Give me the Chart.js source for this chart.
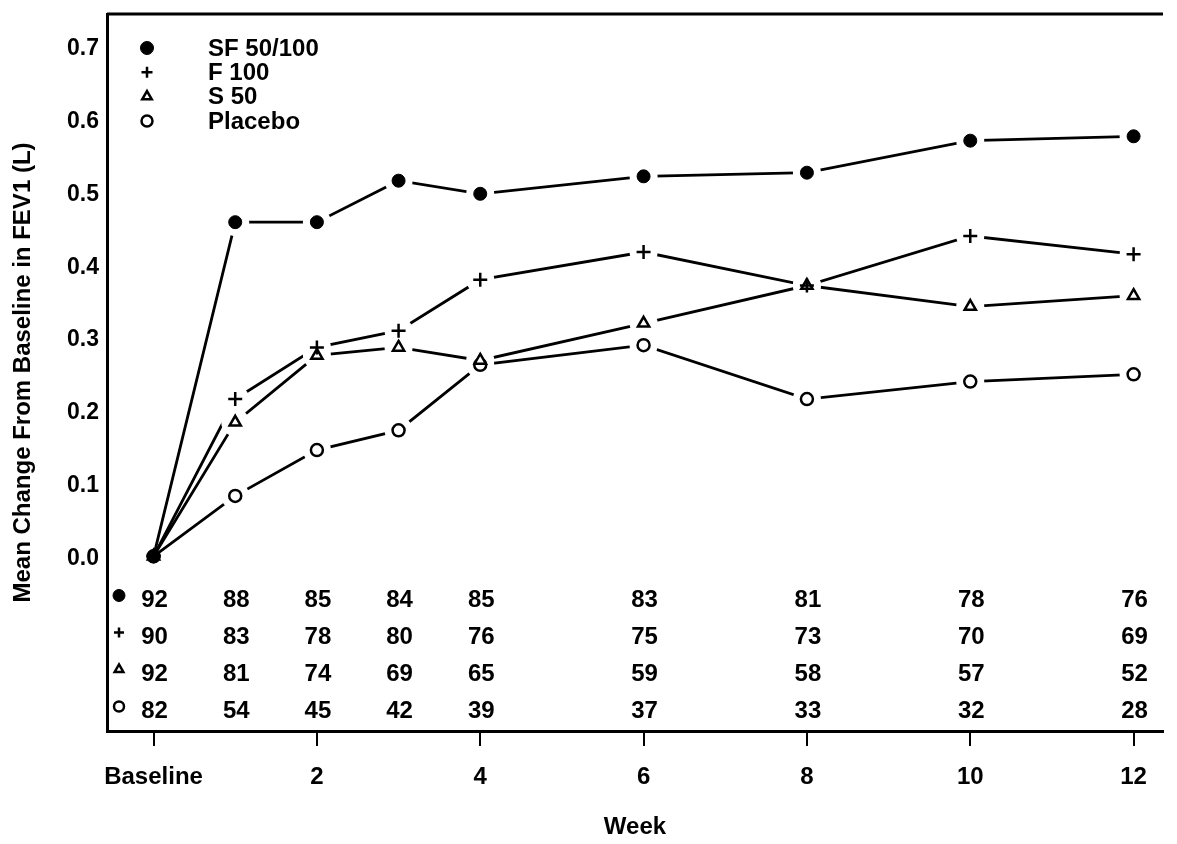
<!DOCTYPE html>
<html lang="en">
<head>
<meta charset="UTF-8">
<script src="https://cdn.jsdelivr.net/npm/chart.js@4.4.0/dist/chart.umd.min.js"></script>
<title>FEV1 change from baseline</title>
<style>
    html, body { margin: 0; padding: 0; background: #fff; overflow: hidden; }
    canvas#myChart { display: block; }
</style>
</head>
<body>
<canvas id="myChart" width="1177" height="844"></canvas>
<script>
// weeks of the visits (0 = baseline)
const weeks = [0, 1, 2, 3, 4, 6, 8, 10, 12];
const seriesNames = ['SF 50/100', 'F 100', 'S 50', 'Placebo'];

// mean change from baseline in FEV1 (L)
const sf50100 = [0.003, 0.462, 0.462, 0.519, 0.501, 0.525, 0.530, 0.574, 0.580];
const f100 = [0.003, 0.219, 0.290, 0.313, 0.383, 0.421, 0.375, 0.443, 0.418];
const s50 = [0.003, 0.187, 0.279, 0.290, 0.272, 0.323, 0.375, 0.346, 0.361];
const placebo = [0.003, 0.086, 0.149, 0.176, 0.266, 0.293, 0.219, 0.243, 0.253];

// number of patients at each visit
const nSF = [92, 88, 85, 84, 85, 83, 81, 78, 76];
const nF = [90, 83, 78, 80, 76, 75, 73, 70, 69];
const nS = [92, 81, 74, 69, 65, 59, 58, 57, 52];
const nP = [82, 54, 45, 42, 39, 37, 33, 32, 28];

const xTicks = [0, 2, 4, 6, 8, 10, 12];
const xTickLabels = ['Baseline', '2', '4', '6', '8', '10', '12'];
const yTicks = [0, 0.1, 0.2, 0.3, 0.4, 0.5, 0.6, 0.7];

const FONT = '"Liberation Sans", Arial, sans-serif';

const values = [sf50100, f100, s50, placebo];
const counts = [nSF, nF, nS, nP];
const markers = [
    { pointStyle: 'circle', radius: 6.5, fill: '#000', bw: 1 },
    { pointStyle: 'cross', radius: 7, fill: '#000', bw: 2.5 },
    { pointStyle: 'triangle', radius: 6.5, fill: '#fff', bw: 2.5 },
    { pointStyle: 'circle', radius: 6, fill: '#fff', bw: 2.5 }
];

const toPoints = arr => arr.map((v, i) => ({ x: weeks[i], y: v }));

const datasets = [];
values.forEach((arr, k) => {
    // the line itself
    datasets.push({
        data: toPoints(arr), order: 3,
        borderColor: '#000', borderWidth: 2.8, pointRadius: 0, tension: 0
    });
    // white halo so the line stops short of each marker
    datasets.push({
        data: toPoints(arr), order: 2, showLine: false,
        pointRadius: c => c.dataIndex === 0 ? 0 : 14,
        pointBackgroundColor: '#fff', pointBorderWidth: 0, pointBorderColor: '#fff'
    });
    // the marker
    datasets.push({
        data: toPoints(arr), order: 1, showLine: false,
        pointStyle: markers[k].pointStyle,
        pointRadius: markers[k].radius,
        pointBackgroundColor: markers[k].fill,
        pointBorderColor: '#000', pointBorderWidth: markers[k].bw
    });
});

function marker(ctx, k, x, y, r) {
    ctx.fillStyle = markers[k].fill;
    ctx.strokeStyle = '#000';
    ctx.lineWidth = markers[k].bw;
    Chart.helpers.drawPoint(ctx, {
        pointStyle: markers[k].pointStyle, rotation: 0, radius: r, borderWidth: markers[k].bw
    }, x, y);
}

// legend in the top-left corner, table of n below the zero line, x tick labels
const extras = {
    id: 'extras',
    afterDraw(chart) {
        const { ctx, chartArea, scales } = chart;
        const xs = scales.x, ys = scales.y;
        ctx.save();
        // top border of the box
        ctx.strokeStyle = '#000';
        ctx.lineWidth = 3;
        ctx.beginPath();
        ctx.moveTo(chartArea.left, chartArea.top);
        ctx.lineTo(chartArea.right, chartArea.top);
        ctx.stroke();

        ctx.textBaseline = 'middle';
        // legend
        ctx.font = 'bold 24px ' + FONT;
        ctx.textAlign = 'left';
        seriesNames.forEach((name, k) => {
            const ly = chartArea.top + 34 + k * 24.3;
            marker(ctx, k, chartArea.left + 40, ly, k === 0 ? 6.5 : 5.5);
            ctx.fillStyle = '#000';
            ctx.fillText(name, chartArea.left + 101, ly + 1);
        });
        // n table
        ctx.textAlign = 'center';
        const y0 = ys.getPixelForValue(0);
        counts.forEach((row, k) => {
            const ry = y0 + 41 + k * 37;
            marker(ctx, k, chartArea.left + 12, ry - 4, k === 0 ? 6 : 5);
            ctx.fillStyle = '#000';
            row.forEach((n, i) => {
                ctx.fillText(String(n), xs.getPixelForValue(weeks[i]) + 1, ry + 1);
            });
        });
        // x tick labels (drawn here so they do not pad the plot area)
        ctx.fillStyle = '#000';
        xTicks.forEach((v, i) => {
            ctx.fillText(xTickLabels[i], xs.getPixelForValue(v), chartArea.bottom + 46);
        });
        ctx.restore();
    }
};

new Chart(document.getElementById('myChart'), {
    type: 'line',
    data: { datasets: datasets },
    plugins: [extras],
    options: {
        responsive: false,
        animation: false,
        events: [],
        layout: { padding: { top: 8, right: 2, left: 0, bottom: 0 } },
        plugins: { legend: { display: false }, tooltip: { enabled: false } },
        scales: {
            x: {
                type: 'linear',
                min: -0.57,
                max: 12.36,
                afterBuildTicks: s => { s.ticks = xTicks.map(v => ({ value: v })); },
                afterFit: s => { s.height = 113; },
                ticks: { display: false },
                grid: { drawOnChartArea: false, drawTicks: true, tickLength: 15, color: '#000', lineWidth: 2 },
                border: { display: true, color: '#000', width: 3 },
                title: {
                    display: true, text: 'Week', color: '#000',
                    font: { family: FONT, size: 24, weight: 'bold' },
                    padding: { top: 0, bottom: 2 }
                }
            },
            y: {
                min: -0.237,
                max: 0.748,
                afterBuildTicks: s => { s.ticks = yTicks.map(v => ({ value: v })); },
                afterFit: s => { s.width = 107; s.paddingTop = 0; s.paddingBottom = 0; },
                ticks: {
                    color: '#000',
                    font: { family: FONT, size: 23, weight: 'bold' },
                    padding: 8,
                    callback: v => v.toFixed(1)
                },
                grid: { display: false, drawTicks: false },
                border: { display: true, color: '#000', width: 3 },
                title: {
                    display: true, text: 'Mean Change From Baseline in FEV1 (L)', color: '#000',
                    font: { family: FONT, size: 24, weight: 'bold' },
                    padding: { top: 9, bottom: 0 }
                }
            }
        }
    }
});
</script>
</body>
</html>
